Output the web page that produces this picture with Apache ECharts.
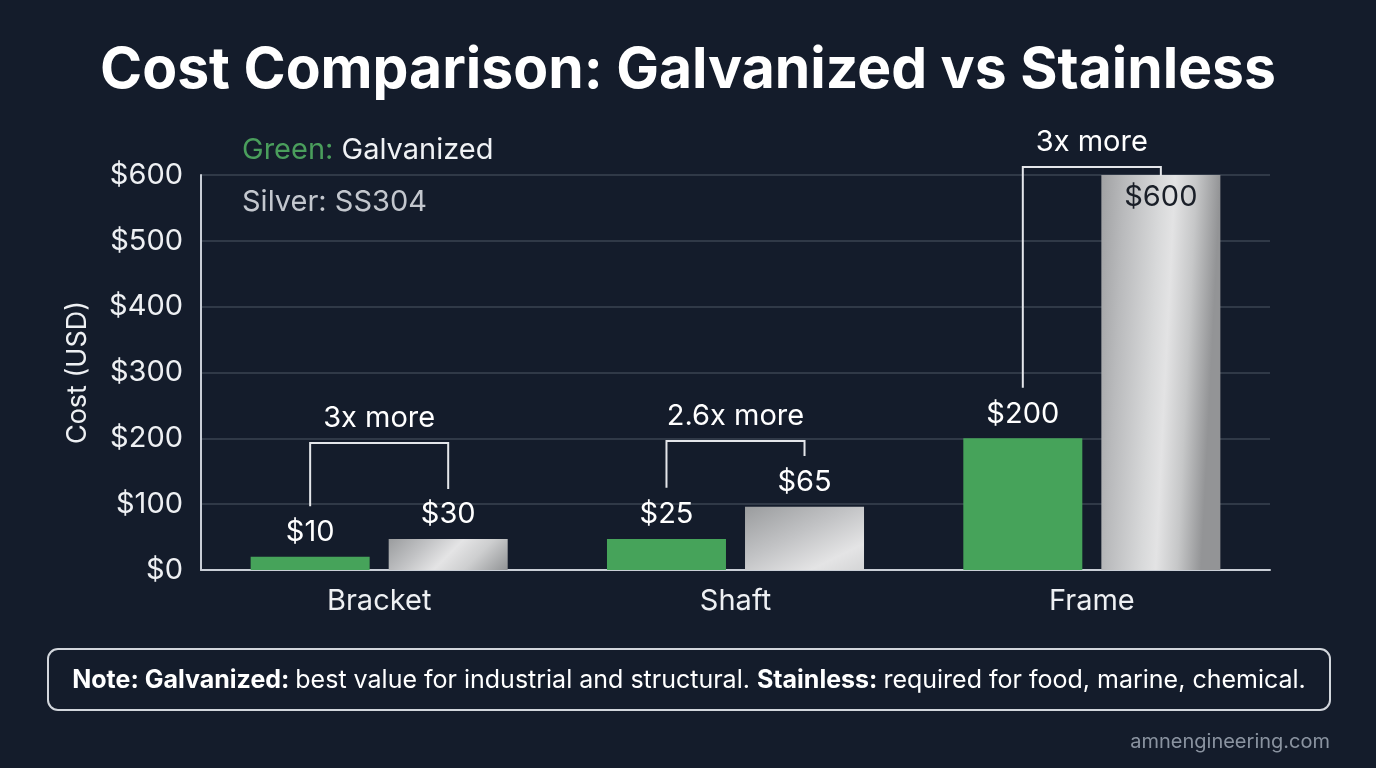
<!DOCTYPE html>
<html><head><meta charset="utf-8">
<script src="https://cdn.jsdelivr.net/npm/echarts@6/dist/echarts.min.js"></script>
<style>html,body{margin:0;padding:0;background:#141c2b;}#c{width:1376px;height:768px;}</style>
</head><body><div id="c"></div>
<script>
const categories = ['Bracket', 'Shaft', 'Frame'];
const galvanized = [20, 47, 200];
const stainless = [47, 96, 600];
const galvLabels = ['$10', '$25', '$200'];
const ssLabels = ['$30', '$65', '$600'];
const yTicks = [0, 100, 200, 300, 400, 500, 600];
const bracketText = ['3x more', '2.6x more', '3x more'];
const bracketLeftLow = [97, 125, 277];
const bracketTop = [193, 196, 612];
const bracketRightLow = [123, 173, 599];

const FONT = 'Inter, "Noto Sans", sans-serif';
const FS = 29;
const chart = echarts.init(document.getElementById('c'));
const shortGrad = () => new echarts.graphic.LinearGradient(0, 0, 1, 3.8, [
  {offset: 0, color: '#9a9c9e'},
  {offset: 0.18, color: '#c2c3c5'},
  {offset: 0.32, color: '#e4e4e5'},
  {offset: 0.45, color: '#cdcecf'},
  {offset: 0.63, color: '#939597'}
]);
const tallGrad = new echarts.graphic.LinearGradient(0, 0, 1, 0.015, [
  {offset: 0, color: '#a0a1a3'},
  {offset: 0.2, color: '#b9babc'},
  {offset: 0.5, color: '#d8d9da'},
  {offset: 0.62, color: '#e3e3e4'},
  {offset: 0.8, color: '#c6c7c8'},
  {offset: 1, color: '#939496'}
]);

const option = {
  backgroundColor: '#141c2b',
  animation: false,
  textStyle: {fontFamily: FONT},
  title: {
    text: 'Cost Comparison: Galvanized vs Stainless',
    left: 'center', top: 37,
    textStyle: {color: '#ffffff', fontSize: 57, fontWeight: 'bold', fontFamily: FONT}
  },
  grid: {left: 201, right: 106, top: 175, bottom: 198},
  xAxis: {
    type: 'category', data: categories,
    axisLine: {show: true, lineStyle: {color: '#c9ced6', width: 2}},
    axisTick: {show: false},
    axisLabel: {color: '#eef0f3', fontSize: FS, margin: 17, fontFamily: FONT}
  },
  yAxis: {
    type: 'value', min: yTicks[0], max: yTicks[yTicks.length - 1], interval: 100,
    name: 'Cost (USD)', nameLocation: 'middle', nameGap: 110, nameRotate: 90,
    nameTextStyle: {color: '#eef0f3', fontSize: 27, fontFamily: FONT},
    axisLine: {show: true, lineStyle: {color: '#c9ced6', width: 2}},
    axisTick: {show: false},
    splitLine: {lineStyle: {color: '#3a4352', width: 1.5}},
    axisLabel: {color: '#eef0f3', fontSize: FS, margin: 18, fontFamily: FONT, formatter: v => '$' + v}
  },
  series: [
    {
      type: 'bar', name: 'Galvanized', data: galvanized,
      barWidth: 119, barGap: '16%',
      itemStyle: {color: '#46a35a'},
      label: {show: true, position: 'top', distance: 10, color: '#ffffff', fontSize: FS, fontFamily: FONT,
        formatter: p => galvLabels[p.dataIndex]}
    },
    {
      type: 'bar', name: 'SS304',
      data: stainless.map((v, i) => i === 2
        ? {value: v, itemStyle: {color: tallGrad}, label: {position: 'insideTop', distance: 8, color: '#1a1f28'}}
        : {value: v, itemStyle: {color: shortGrad()}}),
      barWidth: 119,
      label: {show: true, position: 'top', distance: 10, color: '#ffffff', fontSize: FS, fontFamily: FONT,
        formatter: p => ssLabels[p.dataIndex]}
    }
  ]
};
chart.setOption(option);

function buildGraphics() {
  const g0 = chart.getModel().getSeriesByIndex(0).getData();
  const g1 = chart.getModel().getSeriesByIndex(1).getData();
  const els = [];
  categories.forEach((c, i) => {
    const l0 = g0.getItemLayout(i), l1 = g1.getItemLayout(i);
    const xL = l0.x + l0.width / 2, xR = l1.x + l1.width / 2;
    const yLL = chart.convertToPixel({yAxisIndex: 0}, bracketLeftLow[i]);
    const yT = chart.convertToPixel({yAxisIndex: 0}, bracketTop[i]);
    const yRL = chart.convertToPixel({yAxisIndex: 0}, bracketRightLow[i]);
    els.push({type: 'polyline', shape: {points: [[xL, yLL], [xL, yT], [xR, yT], [xR, yRL]]},
      style: {stroke: '#e4e6ea', lineWidth: 2, fill: null}, z: 10});
    els.push({type: 'text', x: (xL + xR) / 2, y: yT - 25,
      style: {text: bracketText[i], fill: '#ffffff', fontSize: FS, fontFamily: FONT, align: 'center', verticalAlign: 'middle'}, z: 10});
  });
  els.push({type: 'text', x: 242, y: 150,
    style: {text: '{g|Green: }{w|Galvanized}', fontFamily: FONT, verticalAlign: 'middle',
      rich: {g: {fill: '#4a9e5c', fontSize: FS, fontFamily: FONT}, w: {fill: '#f0f2f5', fontSize: FS, fontFamily: FONT}}}});
  els.push({type: 'text', x: 242, y: 202,
    style: {text: 'Silver: SS304', fill: '#c3c7ce', fontSize: FS, fontFamily: FONT, verticalAlign: 'middle'}});
  els.push({type: 'rect', shape: {x: 48, y: 649, width: 1282, height: 61, r: 10},
    style: {fill: 'transparent', stroke: '#d2d6dc', lineWidth: 2}});
  els.push({type: 'text', x: 689, y: 680,
    style: {text: '{b|Note: Galvanized: }{n|best value for industrial and structural. }{b|Stainless: }{n|required for food, marine, chemical.}',
      align: 'center', verticalAlign: 'middle', fontFamily: FONT,
      rich: {b: {fill: '#ffffff', fontSize: 25, fontWeight: 'bold', fontFamily: FONT},
             n: {fill: '#ffffff', fontSize: 25, fontFamily: FONT}}}});
  els.push({type: 'text', right: 46, top: 732,
    style: {text: 'amnengineering.com', fill: '#8a93a0', fontSize: 20, fontFamily: FONT}});
  chart.setOption({graphic: els});
}
buildGraphics();
</script></body></html>
